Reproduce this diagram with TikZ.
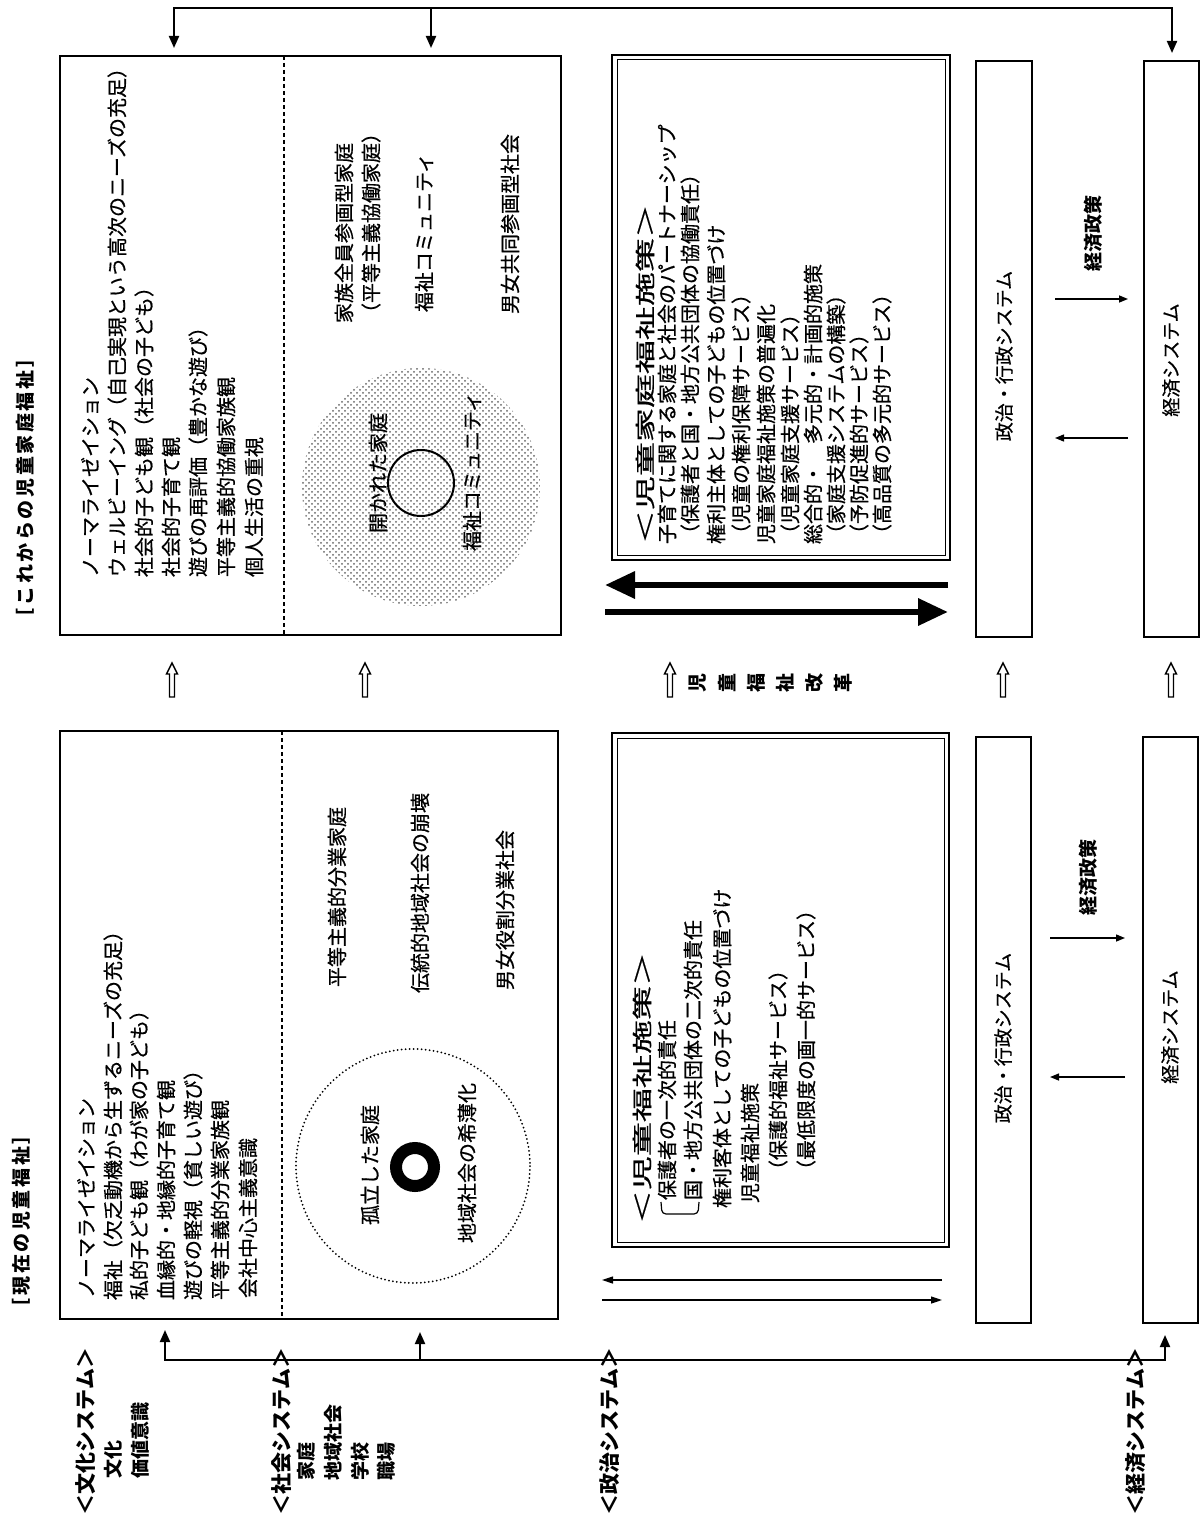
\documentclass[tikz,border=0pt]{standalone}
\usepackage{fontspec}
\usepackage{graphicx}
\usetikzlibrary{arrows.meta,fit,patterns}
\newfontfamily\jp{Noto Sans CJK JP}[FakeBold=0.6]
\newfontfamily\jpb{Noto Sans CJK JP}
\def\myspaced#1{\ifx#1\relax\else#1\hskip1.3pt\expandafter\myspaced\fi}
\newcommand\hollowup[1]{%
  \draw[line width=0.7pt,fill=white] (#1-2.5,697) -- (#1-2.5,674) -- (#1-5.5,674) -- (#1,663) -- (#1+5.5,674) -- (#1+2.5,674) -- (#1+2.5,697) -- cycle;}
\begin{document}
\begin{tikzpicture}[x=0.5pt,y=-0.5pt,
  vt/.style={rotate=90, anchor=west, inner sep=0pt, outer sep=0pt, font=\jp\fontsize{10}{12}\selectfont},
  vtb/.style={vt, font=\jpb\bfseries\fontsize{9.5}{11}\selectfont},
  head/.style={vt, font=\jpb\bfseries\fontsize{9.5}{11}\selectfont},
  lab/.style={vt, font=\jpb\bfseries\fontsize{10.5}{12}\selectfont},
  vc/.style={rotate=90, anchor=center, inner sep=0pt, font=\jp\fontsize{9.5}{11}\selectfont},
  title/.style={vt},
  box/.style={draw, line width=0.9pt, inner sep=0pt, outer sep=0pt},
  sysbox/.style={draw, line width=0.75pt, inner sep=0pt, outer sep=0pt},
  dashline/.style={line width=0.6pt, dash pattern=on 2pt off 1.5pt},
  conn/.style={line width=1pt, {Triangle[length=6pt,width=5pt]}-{Triangle[length=6pt,width=5pt]}},
  conn1/.style={line width=1pt, -{Triangle[length=6pt,width=5pt]}},
  thk/.style={line width=3.2pt, -{Triangle[length=15pt,width=13pt]}},
  thn/.style={line width=0.6pt, -{Triangle[length=5.5pt,width=3.5pt]}},
  mid/.style={line width=0.7pt, -{Triangle[length=4.5pt,width=3.5pt]}}
]
\useasboundingbox (0,0) rectangle (1203,1524);
\fill[white] (0,0) rectangle (1203,1524);

% ---------- headings ----------
\node[head] (hfut) at (25,627) {\myspaced［これからの児童家庭福祉］\relax};
\node[head] (hpre) at (21,1317) {\myspaced［現在の児童福祉］\relax};

% ---------- main boxes ----------
\node[box, fit={(60,56)(561,635)}] (fut) {};
\node[box, fit={(60,731)(558,1319)}] (pre) {};
\draw[dashline] (284,56) -- (284,635);
\draw[dashline] (282,731) -- (282,1319);

\node[box, line width=1.1pt, fit={(612,55)(950,560)}] (fpol) {};
\draw[line width=0.5pt] ([shift={(2.5pt,-2.5pt)}]fpol.north west) rectangle ([shift={(-2.5pt,2.5pt)}]fpol.south east);
\node[box, line width=1.1pt, fit={(612,733)(949,1247)}] (ppol) {};
\draw[line width=0.5pt] ([shift={(2.5pt,-2.5pt)}]ppol.north west) rectangle ([shift={(-2.5pt,2.5pt)}]ppol.south east);

\node[sysbox, fit={(976,61)(1032,637)}] (fgov) {};
\node[sysbox, fit={(1144,61)(1199,637)}] (fecon) {};
\node[sysbox, fit={(976,737)(1031,1323)}] (pgov) {};
\node[sysbox, fit={(1143,737)(1198,1323)}] (pecon) {};

% ---------- top / bottom connectors ----------
\coordinate (tl) at (174,8); \coordinate (tm) at (431,8); \coordinate (tr) at (1172,8);
\draw[conn, shorten <=4pt, shorten >=4pt] (tl |- fut.north) -- (tl) -- (tr) -- (tr |- fecon.north);
\draw[conn1, shorten >=4pt] (tm) -- (tm |- fut.north);
\coordinate (bl) at (165,1360); \coordinate (bm) at (420,1360); \coordinate (br) at (1165,1360);
\draw[conn, shorten <=5.5pt, shorten >=6pt] (bl |- pre.south) -- (bl) -- (br) -- (br |- pecon.south);
\draw[conn1, shorten >=6.5pt] (bm) -- (bm |- pre.south);

% ---------- future: left texts ----------
\node[vt] (f1) at (90,577) {ノーマライゼイション};
\node[vt] (f2) at (117,577) {ウェルビーイング（自己実現という高次のニーズの充足）};
\node[vt] (f3) at (144,577) {社会的子ども観（社会の子ども）};
\node[vt] (f4) at (171,577) {社会的子育て観};
\node[vt] (f5) at (198,577) {遊びの再評価（豊かな遊び）};
\node[vt] (f6) at (226,577) {平等主義的協働家族観};
\node[vt] (f7) at (254,577) {個人生活の重視};

% future: right part
\fill[pattern=crosshatch dots, pattern color=black!60] (421,487) circle[radius=119];
\draw[line width=1pt] (421,483) circle[radius=33];
\node[vt] (fopen) at (378,533) {開かれた家庭};
\node[vt] (fcom) at (472,551) {福祉コミュニティ};
\node[vt] (fr1) at (344,323) {家族全員参画型家庭};
\node[vt] (fr2) at (371,323) {（平等主義協働家庭）};
\node[vt] (fr3) at (424,312) {福祉コミュニティ};
\node[vt] (fr4) at (510,314) {男女共同参画型社会};

% future policy box texts
\node[title] (ft) at (645,544) {\scalebox{1.7}[1]{＜児童家庭福祉施策＞}};
\node[vt] (fp1) at (667,544) {子育てに関する家庭と社会のパートナーシップ};
\node[vt] (fp2) at (690,544) {（保護者と国・地方公共団体の協働責任）};
\node[vt] (fp3) at (716,544) {権利主体としての子どもの位置づけ};
\node[vt] (fp4) at (741,544) {（児童の権利保障サービス）};
\node[vt] (fp5) at (766,544) {児童家庭福祉施策の普遍化};
\node[vt] (fp6) at (790,544) {（児童家庭支援サービス）};
\node[vt] (fp7) at (813,544) {総合的・　多元的・計画的施策};
\node[vt] (fp8) at (836,544) {（家庭支援システムの構築）};
\node[vt] (fp9) at (859,544) {（予防促進的サービス）};
\node[vt] (fp10) at (882,544) {（高品質の多元的サービス）};

% thick arrows
\coordinate (fa1s) at (948,585); \coordinate (fa1e) at (605,585);
\coordinate (fa2s) at (605,612); \coordinate (fa2e) at (948,612);
\draw[thk] (fa1s) -- (fa1e);
\draw[thk] (fa2s) -- (fa2e);

% future system boxes
\node[vc] (fgovt) at (1004,356) {政治・行政システム};
\node[vc] (fecont) at (1171,360) {経済システム};
\node[vtb] (fep) at (1093,272) {経済政策};
\coordinate (fe1s) at (1055,299); \coordinate (fe1e) at (1128,299);
\coordinate (fe2s) at (1128,438); \coordinate (fe2e) at (1055,438);
\draw[mid] (fe1s) -- (fe1e);
\draw[mid] (fe2s) -- (fe2e);

% ---------- hollow arrows and reform label ----------
\hollowup{172}
\hollowup{365}
\hollowup{670}
\hollowup{1003}
\hollowup{1171}
\node[vtb, anchor=center] (r1) at (698,683) {児};
\node[vtb, anchor=center] (r2) at (727,683) {童};
\node[vtb, anchor=center] (r3) at (756,683) {福};
\node[vtb, anchor=center] (r4) at (785,683) {祉};
\node[vtb, anchor=center] (r5) at (814,683) {改};
\node[vtb, anchor=center] (r6) at (843,683) {革};

% ---------- present: left texts ----------
\node[vt] (p1) at (86,1298) {ノーマライゼイション};
\node[vt] (p2) at (113,1300) {福祉（欠乏動機から生ずるニーズの充足）};
\node[vt] (p3) at (139,1300) {私的子ども観（わが家の子ども）};
\node[vt] (p4) at (166,1300) {血縁的・地縁的子育て観};
\node[vt] (p5) at (193,1300) {遊びの軽視（貧しい遊び）};
\node[vt] (p6) at (220,1300) {平等主義的分業家族観};
\node[vt] (p7) at (248,1298) {会社中心主義意識};

% present: right part
\draw[line width=1pt, dash pattern=on 0pt off 2pt, line cap=round] (413,1166) circle[radius=117];
\draw[line width=6pt] (415,1167) circle[radius=19];
\node[vt] (piso) at (370,1225) {孤立した家庭};
\node[vt] (pthin) at (467,1243) {地域社会の希薄化};
\node[vt] (pr1) at (337,987) {平等主義的分業家庭};
\node[vt] (pr2) at (420,993) {伝統的地域社会の崩壊};
\node[vt] (pr3) at (505,990) {男女役割分業社会};

% present policy box texts
\node[title] (pt) at (642,1224) {\scalebox{1.7}[1]{＜児童福祉施策＞}};
\draw[line width=0.6pt, rounded corners=2pt] (661,1202) -- (662,1214) -- (698,1214) -- (699,1202);
\node[vt] (pp1) at (667,1200) {保護者の一次的責任};
\node[vt] (pp2) at (693,1200) {国・地方公共団体の二次的責任};
\node[vt] (pp3) at (722,1208) {権利客体としての子どもの位置づけ};
\node[vt] (pp4) at (750,1203) {児童福祉施策};
\node[vt] (pp5) at (778,1180) {（保護的福祉サービス）};
\node[vt] (pp6) at (806,1180) {（最低限度の画一的サービス）};

% thin arrows
\coordinate (pa1s) at (942,1280); \coordinate (pa1e) at (602,1280);
\coordinate (pa2s) at (602,1300); \coordinate (pa2e) at (942,1300);
\draw[thn] (pa1s) -- (pa1e);
\draw[thn] (pa2s) -- (pa2e);

% present system boxes
\node[vc] (pgovt) at (1003,1038) {政治・行政システム};
\node[vc] (pecont) at (1170,1027) {経済システム};
\node[vtb] (pep) at (1088,915) {経済政策};
\coordinate (pe1s) at (1050,938); \coordinate (pe1e) at (1125,938);
\coordinate (pe2s) at (1125,1077); \coordinate (pe2e) at (1050,1077);
\draw[mid] (pe1s) -- (pe1e);
\draw[mid] (pe2s) -- (pe2e);

% ---------- system labels ----------
\node[lab] (lcul) at (86,1515) {＜文化システム＞};
\node[vtb] (lcul1) at (113,1478) {文化};
\node[vtb] (lcul2) at (140,1478) {価値意識};
\node[lab] (lsoc) at (282,1515) {＜社会システム＞};
\node[vtb] (lsoc1) at (306,1480) {家庭};
\node[vtb] (lsoc2) at (333,1480) {地域社会};
\node[vtb] (lsoc3) at (360,1480) {学校};
\node[vtb] (lsoc4) at (386,1480) {職場};
\node[lab] (lpol) at (610,1515) {＜政治システム＞};
\node[lab] (leco) at (1136,1515) {＜経済システム＞};
\end{tikzpicture}
\end{document}
